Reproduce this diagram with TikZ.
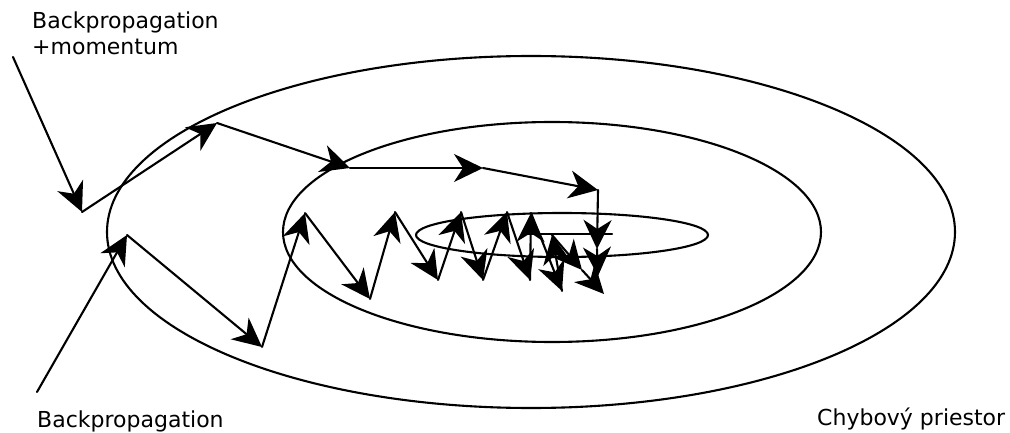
\documentclass[tikz,border=0pt]{standalone}
\usepackage{fontspec}
\setmainfont{DejaVu Sans}
\usetikzlibrary{arrows.meta}

\begin{document}
\begin{tikzpicture}[
  x=1pt, y=-1pt,
  line join=round, line cap=round,
  contour/.style={line width=2.1pt},
  move/.style={line width=2.1pt, -{Stealth[length=29pt, width=28pt, inset=9pt]}},
  lbl/.style={font=\fontsize{22}{26}\selectfont, inner sep=0pt, anchor=base west, align=left},
]
\useasboundingbox (0,0) rectangle (1010,433);

% ── the error surface, three level curves ─────────────────────────────────
\draw[contour] (531,232) ellipse [x radius=424, y radius=176];
\draw[contour] (552,232) ellipse [x radius=269, y radius=110];
\draw[contour] (562,235) ellipse [x radius=146, y radius=22];

% ── backpropagation with momentum: long smooth steps ──────────────────────
\coordinate (m0) at (13,57);
\coordinate (m1) at (82,212);
\coordinate (m2) at (217,123);
\coordinate (m3) at (350,168);
\coordinate (m4) at (483,168);
\coordinate (m5) at (598,190);
\coordinate (m6) at (597,249);
\coordinate (m7) at (598,276);
\foreach \a/\b in {0/1,1/2,2/3,3/4,4/5,5/6,6/7} { \draw[move] (m\a) -- (m\b); }

% ── plain backpropagation: it zigzags across the valley ───────────────────
\coordinate (b0) at (37,392);
\coordinate (b1) at (127,235);
\coordinate (b2) at (262,347);
\coordinate (b3) at (305,213);
\coordinate (b4) at (370,299);
\coordinate (b5) at (395,212);
\coordinate (b6) at (438,280);
\coordinate (b7) at (461,212);
\coordinate (b8) at (483,280);
\coordinate (b9) at (507,212);
\coordinate (b10) at (530,280);
\coordinate (b11) at (531,213);
\coordinate (b12) at (562,291);
\coordinate (b13) at (552,235);
\coordinate (b14) at (582,270);
\coordinate (b15) at (604,294);
\foreach \a/\b in {0/1,1/2,2/3,3/4,4/5,5/6,6/7,7/8,8/9,9/10,10/11,11/12,12/13,13/14,14/15} {
  \draw[move] (b\a) -- (b\b);
}

% the stray stroke through the inner curve
\coordinate (s0) at (527,234);
\coordinate (s1) at (612,234);
\draw[contour] (s0) -- (s1);

% ── labels ────────────────────────────────────────────────────────────────
\node[lbl] (momlbl) at (32,55) {Backpropagation\\+momentum};
\node[lbl] (bplbl) at (37,427) {Backpropagation};
\node[lbl] (spacelbl) at (817,425) {Chybový priestor};

\end{tikzpicture}
\end{document}
